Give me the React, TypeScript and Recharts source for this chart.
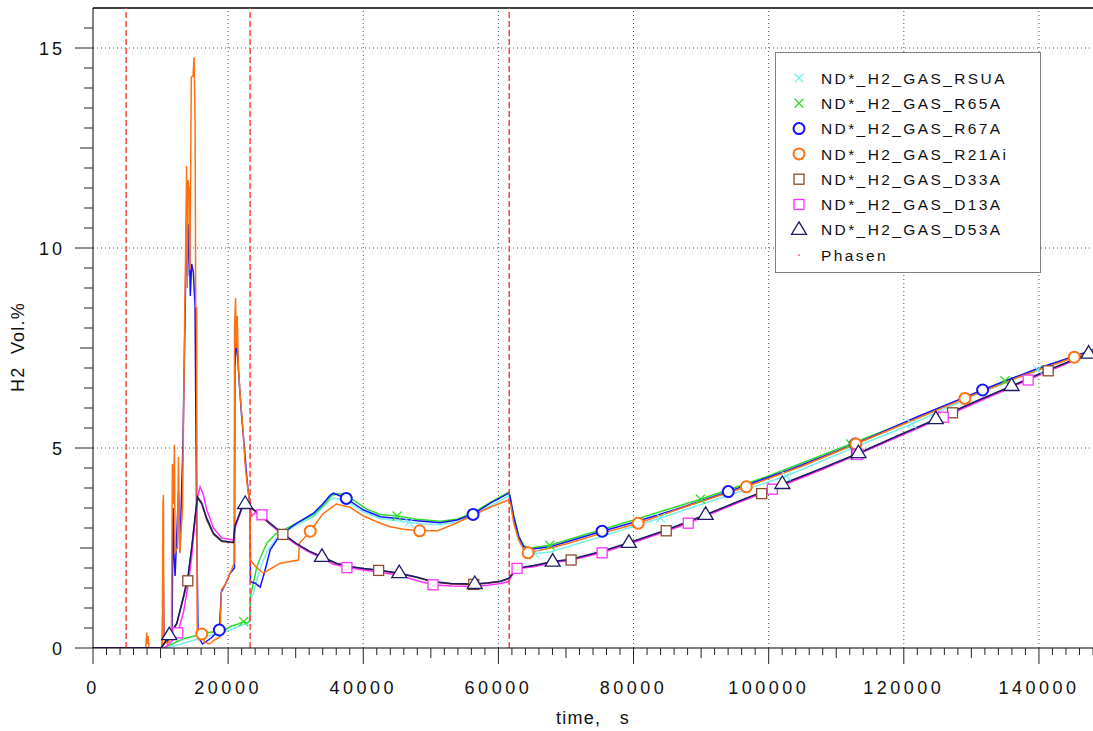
import React from 'react';
import { LineChart, Line, XAxis, YAxis, ReferenceLine, Legend } from 'recharts';

type Pt = [number, number];

// ---------- data (time s, H2 Vol.%) ----------
const rsuaData: Pt[] = [
  [0, 0], [10800, 0], [11500, 0.03], [13000, 0.1], [15000, 0.2], [17000, 0.3], [19000, 0.38], [21000, 0.5],
  [22500, 0.6], [23200, 0.65], [23300, 1.2], [23700, 1.35], [24250, 1.7], [25000, 2.1], [25730, 2.4],
  [27000, 2.72], [28200, 2.88], [30170, 3.08], [32640, 3.28], [35110, 3.7], [35600, 3.75], [37480, 3.68],
  [40050, 3.4], [42520, 3.23], [44990, 3.18], [46800, 3.14], [49000, 3.1], [51400, 3.08], [53880, 3.15],
  [56250, 3.3], [58810, 3.55], [61530, 3.8], [61700, 3.72], [62270, 3.2], [63010, 2.7], [63750, 2.45],
  [65400, 2.36], [67700, 2.4], [75110, 2.78], [84000, 3.25], [92000, 3.7], [102600, 4.3], [112000, 4.97],
  [121200, 5.6], [130000, 6.28], [139800, 6.96], [148000, 7.42],
];
const rsuaMarks = [28200, 46800, 65400, 84000, 102600, 121200, 139800];

const r65aData: Pt[] = [
  [0, 0], [10500, 0], [11000, 0.05], [12000, 0.12], [13500, 0.24], [15000, 0.3], [16800, 0.38], [18500, 0.42],
  [19500, 0.45], [20500, 0.55], [21500, 0.6], [22300, 0.66], [22800, 0.62], [23200, 0.68], [23300, 1.3],
  [23700, 1.6], [24250, 2.03], [25000, 2.35], [25730, 2.62], [27000, 2.85], [27700, 2.91], [30170, 3.12],
  [32640, 3.33], [34000, 3.55], [35400, 3.82], [36500, 3.86], [38500, 3.7], [40500, 3.47], [42500, 3.34],
  [45000, 3.3], [48000, 3.22], [51400, 3.17], [53880, 3.22], [56250, 3.38], [58810, 3.64], [61530, 3.9],
  [61700, 3.82], [62270, 3.3], [63010, 2.8], [63750, 2.56], [64740, 2.5], [67600, 2.57], [75110, 2.95],
  [80000, 3.2], [89900, 3.72], [100000, 4.3], [112150, 5.1], [122000, 5.76], [134960, 6.68], [148000, 7.45],
];
const r65aMarks = [22300, 45000, 67600, 89900, 112150, 134960];

const r67aData: Pt[] = [
  [0, 0], [10250, 0], [10400, 1.9], [10500, 0.3], [11000, 0.15], [11700, 0.4], [11850, 3.5], [12000, 2.3],
  [12150, 1.8], [12650, 3.9], [12850, 2.4], [13300, 5.0], [13600, 8.0], [13850, 10.7], [14000, 9.3],
  [14200, 10.6], [14400, 8.8], [14600, 9.6], [14850, 9.4], [15100, 8.55], [15350, 3.0], [15550, 0.3],
  [16200, 0.1], [17500, 0.25], [18700, 0.45], [19000, 1.4], [19600, 1.6], [20300, 1.87], [20940, 2.0],
  [21000, 7.0], [21200, 7.7], [21400, 7.3], [21700, 6.5], [22000, 5.8], [22400, 5.0], [22800, 4.2],
  [23100, 3.75], [23260, 3.6], [23300, 1.66], [24000, 1.62], [24740, 1.52], [25400, 1.9], [26220, 2.45],
  [27700, 2.83], [30170, 3.12], [32640, 3.37], [34000, 3.6], [35110, 3.82], [35600, 3.87], [37480, 3.74],
  [40050, 3.45], [42520, 3.28], [44990, 3.24], [47950, 3.18], [51400, 3.13], [53880, 3.2], [56250, 3.34],
  [58810, 3.62], [61530, 3.87], [61700, 3.8], [62270, 3.28], [63010, 2.78], [63750, 2.53], [64740, 2.47],
  [67700, 2.53], [75350, 2.92], [79560, 3.12], [86000, 3.45], [94020, 3.91], [103000, 4.45], [112800, 5.1],
  [122000, 5.78], [131660, 6.45], [140000, 7.0], [148000, 7.45],
];
const r67aMarks = [18700, 37480, 56250, 75350, 94020, 112800, 131660];

const r21aiData: Pt[] = [
  [0, 0], [7800, 0], [7950, 0.38], [8050, 0.1], [8150, 0.3], [8300, 0], [10250, 0], [10350, 3.6],
  [10420, 3.83], [10480, 0.3], [11000, 0.1], [11600, 0.3], [11750, 4.6], [11900, 3.6], [12050, 5.08],
  [12150, 2.4], [12500, 2.5], [12650, 4.78], [12850, 2.37], [13250, 3.5], [13550, 7.95], [13750, 10.5],
  [13850, 12.05], [13950, 9.0], [14050, 11.7], [14250, 11.43], [14350, 9.45], [14550, 14.27], [14800, 14.3],
  [14960, 14.77], [15110, 13.1], [15200, 8.53], [15350, 8.5], [15420, 0.3], [15700, 0.2], [16100, 0.35],
  [16500, 0.15], [17200, 0.1], [18000, 0.2], [18800, 0.28], [19000, 1.45], [19600, 1.6], [20300, 1.87],
  [20890, 2.12], [20950, 8.0], [21100, 8.75], [21200, 7.5], [21350, 8.3], [21500, 7.1], [21800, 6.28],
  [22200, 5.45], [22500, 4.62], [22800, 4.12], [23100, 3.75], [23260, 3.6], [23300, 2.2], [24000, 2.05],
  [25230, 1.87], [26500, 2.0], [27700, 2.12], [30420, 2.2], [30550, 2.62], [32150, 2.92], [34000, 3.35],
  [36000, 3.6], [38000, 3.52], [40050, 3.3], [42520, 3.12], [44000, 3.03], [46000, 2.97], [48340, 2.93],
  [51000, 2.93], [53500, 3.1], [56000, 3.3], [58500, 3.5], [61500, 3.7], [61800, 3.6], [62300, 3.1],
  [63000, 2.7], [63800, 2.45], [64390, 2.38], [67700, 2.5], [70000, 2.6], [75110, 2.86], [80690, 3.12],
  [88000, 3.55], [96690, 4.03], [105000, 4.55], [112890, 5.1], [121000, 5.67], [129040, 6.24], [137000, 6.77],
  [145230, 7.27], [148000, 7.42],
];
const r21aiMarks = [16100, 32150, 48340, 64390, 80690, 96690, 112890, 129040, 145230];

const d33aData: Pt[] = [
  [0, 0], [10000, 0], [10300, 0.05], [11300, 0.3], [12400, 0.6], [13380, 1.25], [14030, 1.68], [14620, 2.5],
  [15110, 3.25], [15460, 3.75], [16100, 3.6], [16840, 3.2], [17830, 2.84], [19060, 2.66], [20790, 2.63],
  [21000, 3.02], [21530, 3.27], [22020, 3.5], [22520, 3.58], [23260, 3.5], [24490, 3.36], [26000, 3.12],
  [28100, 2.84], [30000, 2.61], [32000, 2.41], [33880, 2.27], [36000, 2.11], [38000, 2.03], [40000, 1.98],
  [42270, 1.94], [45330, 1.86], [48000, 1.76], [50320, 1.65], [53000, 1.6], [56350, 1.59], [58500, 1.62],
  [60300, 1.66], [61500, 1.73], [62300, 1.88], [62900, 1.99], [65230, 2.05], [68030, 2.15], [70760, 2.2],
  [75350, 2.41], [79310, 2.62], [84840, 2.93], [90670, 3.32], [96000, 3.68], [98960, 3.86], [102020, 4.08],
  [108000, 4.48], [113000, 4.84], [119000, 5.28], [124740, 5.7], [127210, 5.88], [130000, 6.1],
  [135950, 6.54], [141370, 6.93], [148000, 7.4],
];
const d33aMarks = [14030, 28100, 42270, 56350, 70760, 84840, 98960, 113000, 127210, 141370];

const d13aData: Pt[] = [
  [0, 0], [10500, 0], [11000, 0.05], [11800, 0.2], [12550, 0.38], [13400, 0.9], [14100, 1.6], [14620, 2.3],
  [15110, 3.2], [15500, 3.8], [15850, 4.03], [16300, 3.85], [16840, 3.45], [17830, 3.0], [19060, 2.75],
  [20790, 2.7], [21000, 3.0], [21530, 3.25], [22020, 3.48], [22520, 3.55], [23260, 3.5], [23500, 3.3],
  [24000, 3.38], [25000, 3.33], [26000, 3.14], [28100, 2.83], [30000, 2.6], [32000, 2.4], [33880, 2.25],
  [35500, 2.1], [37580, 2.01], [40000, 1.95], [42270, 1.9], [45330, 1.82], [48000, 1.68], [50320, 1.58],
  [53000, 1.55], [56350, 1.54], [58500, 1.57], [60300, 1.61], [61500, 1.66], [62300, 1.9], [62760, 1.99],
  [65230, 2.03], [68030, 2.13], [70760, 2.2], [75350, 2.38], [79310, 2.6], [84840, 2.92], [88100, 3.12],
  [90670, 3.3], [96000, 3.67], [100540, 3.97], [102020, 4.06], [108000, 4.47], [113200, 4.84], [119000, 5.27],
  [125820, 5.77], [130000, 6.08], [135950, 6.52], [138400, 6.7], [141370, 6.92], [148000, 7.38],
];
const d13aMarks = [12550, 25000, 37580, 50320, 62760, 75350, 88100, 100540, 113200, 125820, 138400];

const d53aData: Pt[] = [
  [0, 0], [10000, 0], [10300, 0.05], [11300, 0.32], [12400, 0.62], [13380, 1.28], [14120, 1.87], [14620, 2.53],
  [15110, 3.28], [15460, 3.78], [16100, 3.62], [16840, 3.24], [17830, 2.87], [19060, 2.68], [20790, 2.64],
  [21000, 3.05], [21530, 3.28], [22020, 3.5], [22520, 3.6], [23260, 3.52], [24490, 3.38], [26000, 3.15],
  [28100, 2.86], [30000, 2.62], [32000, 2.42], [33880, 2.28], [36000, 2.12], [38000, 2.04], [40000, 1.99],
  [42270, 1.95], [45330, 1.87], [48000, 1.77], [50320, 1.66], [53000, 1.61], [56500, 1.6], [58500, 1.63],
  [60300, 1.67], [61500, 1.74], [62300, 1.9], [62900, 2.0], [65230, 2.06], [68030, 2.16], [70760, 2.22],
  [75350, 2.42], [79310, 2.63], [84840, 2.95], [90670, 3.33], [96000, 3.7], [102020, 4.1], [108000, 4.5],
  [113290, 4.87], [119000, 5.3], [124740, 5.72], [130000, 6.12], [135950, 6.55], [141370, 6.95],
  [147350, 7.36], [148000, 7.4],
];
const d53aMarks = [11300, 22520, 33880, 45330, 56500, 68030, 79310, 90670, 102020, 113290, 124740, 135950, 147350];

const phasenTimes = [4900, 23250, 61600];

const seriesNames = [
  'ND*_H2_GAS_RSUA', 'ND*_H2_GAS_R65A', 'ND*_H2_GAS_R67A', 'ND*_H2_GAS_R21Ai',
  'ND*_H2_GAS_D33A', 'ND*_H2_GAS_D13A', 'ND*_H2_GAS_D53A', 'Phasen',
];

const xLabelTicks = [0, 20000, 40000, 60000, 80000, 100000, 120000, 140000];
const yLabelTicks = [0, 5, 10, 15];
const gridX = [20000, 40000, 60000, 80000, 100000, 120000, 140000];
const gridY = [5, 10, 15];

// ---------- axes setup ----------
const X_MAX = 148000;
const Y_MAX = 16;
const X_MINOR = 2000;
const Y_MINOR = 0.5;
const xTicks = Array.from({ length: X_MAX / X_MINOR + 1 }, (_, i) => i * X_MINOR);
const yTicks = Array.from({ length: Y_MAX / Y_MINOR }, (_, i) => i * Y_MINOR);

const FONT = '"Liberation Sans", Arial, sans-serif';

type Shape = 'x' | 'circle' | 'square' | 'triangle' | 'dot';

const SERIES: { name: string; data: Pt[]; marks: number[]; color: string; shape: Shape }[] = [
  { name: seriesNames[0], data: rsuaData, marks: rsuaMarks, color: '#78eef0', shape: 'x' },
  { name: seriesNames[1], data: r65aData, marks: r65aMarks, color: '#2ddc2d', shape: 'x' },
  { name: seriesNames[2], data: r67aData, marks: r67aMarks, color: '#1414ff', shape: 'circle' },
  { name: seriesNames[3], data: r21aiData, marks: r21aiMarks, color: '#ff7212', shape: 'circle' },
  { name: seriesNames[4], data: d33aData, marks: d33aMarks, color: '#8a4a2a', shape: 'square' },
  { name: seriesNames[5], data: d13aData, marks: d13aMarks, color: '#ff30ff', shape: 'square' },
  { name: seriesNames[6], data: d53aData, marks: d53aMarks, color: '#1c1c64', shape: 'triangle' },
];
const PHASEN_COLOR = '#ff4040';

function Marker({ shape, cx, cy, color }: { shape: Shape; cx: number; cy: number; color: string }) {
  switch (shape) {
    case 'x':
      return (
        <g stroke={color} strokeWidth={1.3}>
          <line x1={cx - 4.5} y1={cy - 4.5} x2={cx + 4.5} y2={cy + 4.5} />
          <line x1={cx - 4.5} y1={cy + 4.5} x2={cx + 4.5} y2={cy - 4.5} />
        </g>
      );
    case 'circle':
      return <circle cx={cx} cy={cy} r={5.5} fill="#fff" stroke={color} strokeWidth={2} />;
    case 'square':
      return <rect x={cx - 5} y={cy - 5} width={10} height={10} fill="#fff" stroke={color} strokeWidth={1.3} />;
    case 'triangle':
      return (
        <polygon
          points={`${cx},${cy - 8} ${cx - 7.5},${cy + 4.5} ${cx + 7.5},${cy + 4.5}`}
          fill="#fff"
          stroke={color}
          strokeWidth={1.3}
        />
      );
    default:
      return <circle cx={cx} cy={cy} r={0.9} fill={color} />;
  }
}

const makeDot = (s: (typeof SERIES)[number]) => {
  const set = new Set(s.marks);
  return (props: any) => {
    const { cx, cy, payload, index } = props;
    const key = `${s.name}-${index}`;
    if (!payload || !set.has(payload.t) || cx == null || cy == null) return <g key={key} />;
    return (
      <g key={key}>
        <Marker shape={s.shape} cx={cx} cy={cy} color={s.color} />
      </g>
    );
  };
};

const XTick = (props: any) => {
  const { x, y, payload } = props;
  const v = payload.value as number;
  const major = xLabelTicks.includes(v);
  const mid = v % 10000 === 0;
  const len = major ? 16 : mid ? 10 : 7;
  return (
    <g>
      <line x1={x} y1={y} x2={x} y2={y + len} stroke="#222" strokeWidth={1} />
      {major && (
        <text x={x} y={y + 46} textAnchor="middle" fontSize={18} letterSpacing={3.5} fontFamily={FONT} fill="#111">
          {v}
        </text>
      )}
    </g>
  );
};

const YTick = (props: any) => {
  const { x, y, payload } = props;
  const v = payload.value as number;
  const major = yLabelTicks.includes(v);
  const mid = v % 2.5 === 0;
  const len = major ? 18 : mid ? 13 : 9;
  return (
    <g>
      <line x1={x - len} y1={y} x2={x} y2={y} stroke="#222" strokeWidth={1} />
      {major && (
        <text x={x - 28} y={y + 6.5} textAnchor="end" fontSize={18} letterSpacing={3} fontFamily={FONT} fill="#111">
          {v}
        </text>
      )}
    </g>
  );
};

const XTitle = () => (
  <text x={593} y={724} textAnchor="middle" fontSize={18} letterSpacing={1.2} fontFamily={FONT} fill="#111" style={{ whiteSpace: 'pre' }}>
    {'time,   s'}
  </text>
);

const YTitle = () => (
  <text
    transform="translate(24,347) rotate(-90)"
    textAnchor="middle"
    fontSize={18}
    letterSpacing={1.2}
    fontFamily={FONT}
    fill="#111"
    style={{ whiteSpace: 'pre' }}
  >
    {'H2  Vol.%'}
  </text>
);

const LegendBox = () => (
  <svg width={266} height={221} style={{ display: 'block' }}>
    <rect x={0.5} y={0.5} width={265} height={220} fill="#fff" stroke="#808080" strokeWidth={1} />
    {seriesNames.map((name, i) => {
      const cy = 26 + i * 25.3;
      const s = SERIES[i];
      return (
        <g key={name}>
          {s ? (
            <Marker shape={s.shape} cx={24} cy={cy} color={s.color} />
          ) : (
            <Marker shape="dot" cx={24} cy={cy} color={PHASEN_COLOR} />
          )}
          <text x={46} y={cy + 5.6} fontSize={15.5} letterSpacing={2.4} fontFamily={FONT} fill="#111">
            {name}
          </text>
        </g>
      );
    })}
  </svg>
);

export default function App() {
  return (
    <div style={{ position: 'absolute', left: 0, top: 0, width: 1093, height: 731, background: '#fff' }}>
      <LineChart width={1093} height={731} margin={{ top: 8, right: 0, left: 0, bottom: 0 }}>
        <XAxis
          type="number"
          dataKey="t"
          domain={[0, X_MAX]}
          ticks={xTicks}
          interval={0}
          tick={(p: any) => <XTick {...p} />}
          tickLine={false}
          tickSize={0}
          tickMargin={0}
          axisLine={{ stroke: '#000', strokeWidth: 1 }}
          height={83}
          allowDataOverflow
          label={<XTitle />}
        />
        <YAxis
          type="number"
          dataKey="v"
          domain={[0, Y_MAX]}
          ticks={yTicks}
          interval={0}
          tick={(p: any) => <YTick {...p} />}
          tickLine={false}
          tickSize={0}
          tickMargin={0}
          axisLine={{ stroke: '#000', strokeWidth: 1 }}
          width={93}
          allowDataOverflow
          label={<YTitle />}
        />
        {gridX.map((gx) => (
          <ReferenceLine key={`gx${gx}`} x={gx} stroke="#555" strokeDasharray="1 3" strokeWidth={1} />
        ))}
        {gridY.map((gy) => (
          <ReferenceLine key={`gy${gy}`} y={gy} stroke="#555" strokeDasharray="1 3" strokeWidth={1} />
        ))}
        <ReferenceLine y={Y_MAX} stroke="#000" strokeWidth={1.5} />
        {SERIES.map((s) => (
          <Line
            key={s.name}
            name={s.name}
            data={s.data.map(([t, v]) => ({ t, v }))}
            dataKey="v"
            type="linear"
            stroke={s.color}
            strokeWidth={1.5}
            dot={makeDot(s)}
            activeDot={false}
            isAnimationActive={false}
          />
        ))}
        {phasenTimes.map((pt) => (
          <ReferenceLine key={`ph${pt}`} x={pt} stroke={PHASEN_COLOR} strokeDasharray="6 3" strokeWidth={1.5} />
        ))}
        <Legend
          layout="vertical"
          align="center"
          verticalAlign="middle"
          content={() => <LegendBox />}
          wrapperStyle={{ left: 775, top: 52, width: 266, height: 221 }}
        />
      </LineChart>
    </div>
  );
}
